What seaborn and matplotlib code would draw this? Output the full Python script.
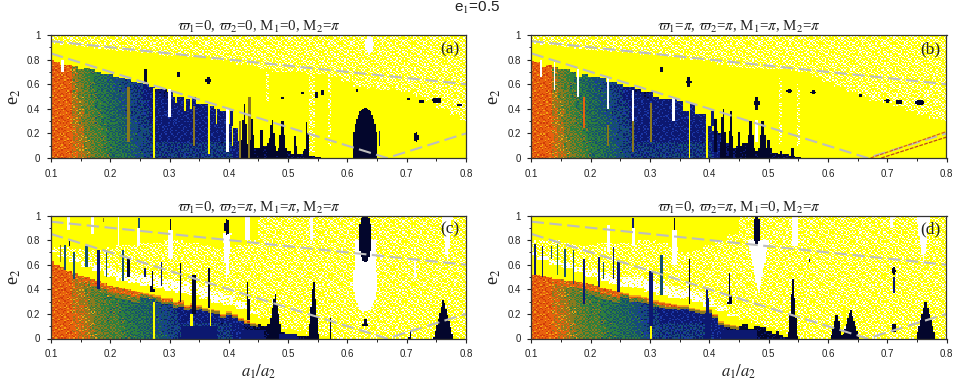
import numpy as np
import pandas as pd
import matplotlib
matplotlib.use("Agg")
import matplotlib.pyplot as plt
from matplotlib.colors import ListedColormap
import seaborn as sns

# ---- class codes of the stability map
WHITE, YELLOW, ORANGE, OLIVE, GREEN, TEAL, NAVY, BLACK, RED, AMBER, BLUE = range(11)
CLASS_COLOURS = ["#FFFFFF", "#FFFF00", "#E8600E", "#8C7A1E", "#2E7F3E", "#15506E", "#0C1870", "#03062C",
                 "#CF3A0A", "#F5A512", "#1C38A8"]

TITLES = [r"$\varpi_1$=0, $\varpi_2$=0, M$_1$=0, M$_2$=$\pi$",
          r"$\varpi_1$=$\pi$, $\varpi_2$=$\pi$, M$_1$=$\pi$, M$_2$=$\pi$",
          r"$\varpi_1$=0, $\varpi_2$=$\pi$, M$_1$=$\pi$, M$_2$=$\pi$",
          r"$\varpi_1$=0, $\varpi_2$=$\pi$, M$_1$=0, M$_2$=$\pi$"]
LETTERS = ["(a)", "(b)", "(c)", "(d)"]
X_TICKS = [0.1, 0.2, 0.3, 0.4, 0.5, 0.6, 0.7, 0.8]
X_LABELS = ["0.1", "0.2", "0.3", "0.4", "0.5", "0.6", "0.7", "0.8"]
Y_TICKS = [0, 0.2, 0.4, 0.6, 0.8, 1]
Y_LABELS = ["0", "0.2", "0.4", "0.6", "0.8", "1"]

# Dashed curves (a1/a2, e2)
UPPER_A = [0.1, 0.8]
UPPER_E = [0.95, 0.6]
LOWER_A = [0.1, 0.6667, 0.8]
LOWER_E = [0.85, 0.0, 0.2]
BAND1_A = [0.672, 0.8]
BAND1_E = [0.0, 0.215]
BAND2_A = [0.69, 0.8]
BAND2_E = [0.0, 0.17]

# Colour level of the stable region per column, a1/a2 = 0.10, 0.11 ... 0.80
HUE_TOP = [0, 0, 0, 0, .5, .9, 1.3, 1.6, 1.9, 2.1,
           2.4, 2.6, 2.8, 3, 3.2, 3.4, 3.6, 3.8, 4, 4,
           4, 4, 4, 4, 4, 4, 4, 4, 4, 4,
           4, 4.2, 4.4, 4.6, 4.8, 5, 5, 5, 5, 5,
           5, 5, 5, 5, 5, 5, 5, 5, 5, 5,
           5, 5, 5, 5, 5, 5, 5, 5, 5, 5,
           5, 5, 5, 5, 5, 5, 5, 5, 5, 5, 5]
HUE_BOTTOM = [0, 0, 0, 0, .3, .6, .9, 1.2, 1.5, 1.8,
              2, 2, 2.2, 2.4, 2.5, 2.7, 2.8, 3, 3.2, 3.4,
              3.6, 3.8, 4, 4, 4, 4, 4, 4, 4, 4,
              4, 4.2, 4.4, 4.6, 4.8, 5, 5, 5, 5, 5,
              5, 5, 5, 5, 5, 5, 5, 5, 5, 5,
              5, 5, 5, 5, 5, 5, 5, 5, 5, 5,
              5, 5, 5, 5, 5, 5, 5, 5, 5, 5, 5]

# Top of the stable region per column, a1/a2 = 0.10, 0.11 ... 0.80
STABLE_A = [.80, .78, .76, .76, .75, .72, .73, .72, .70, .68,
            .68, .66, .65, .64, .62, .61, .60, .58, .56, .56,
            .54, .50, .50, .48, .50, .44, .44, .42, .40, .38,
            .28, .24, .14, .10, .08, .08, .10, .12, .06, .14,
            .06, .03, .03, .06, .02, .01, 0, 0, 0, 0,
            0, 0, 0, 0, 0, 0, 0, 0, 0, 0,
            0, 0, 0, 0, 0, 0, 0, 0, 0, 0, 0]
STABLE_B = [.79, .78, .74, .76, .74, .72, .72, .70, .66, .68,
            .66, .66, .65, .62, .62, .60, .58, .58, .56, .54,
            .54, .50, .48, .48, .48, .46, .38, .44, .36, .36,
            .26, .22, .20, .12, .08, .10, .12, .06, .06, .10,
            .08, .04, .03, .03, .02, .01, 0, 0, 0, 0,
            0, 0, 0, 0, 0, 0, 0, 0, 0, 0,
            0, 0, 0, 0, 0, 0, 0, 0, 0, 0, 0]
STABLE_C = [.63, .60, .58, .55, .53, .51, .50, .48, .47, .45,
            .43, .42, .41, .40, .39, .38, .37, .36, .35, .33,
            .33, .30, .31, .27, .29, .27, .25, .24, .23, .20,
            .22, .20, .17, .15, .13, .12, .10, .12, .05, .05,
            .04, .03, .02, .02, .01, 0, 0, 0, 0, 0,
            0, 0, 0, 0, 0, 0, 0, 0, 0, 0,
            0, 0, 0, 0, 0, 0, 0, 0, 0, 0, 0]
STABLE_D = [.52, .52, .51, .50, .48, .48, .47, .47, .46, .45,
            .44, .43, .41, .40, .39, .38, .37, .35, .35, .34,
            .33, .31, .30, .29, .28, .27, .27, .25, .24, .23,
            .24, .20, .14, .12, .11, .10, .12, .08, .10, .09,
            .06, .04, .03, .01, 0, 0, 0, 0, 0, 0,
            0, 0, 0, 0, 0, 0, 0, 0, 0, 0,
            0, 0, 0, 0, 0, 0, 0, 0, 0, 0, 0]

# Upper limits of the plain yellow / white / speckled zones, a1/a2 = 0.10, 0.12 ... 0.80
YELLOW_A = [.93, .92, .91, .90, .89, .88, .87, .86, .85, .84, .83, .83, .82, .82, .80, .78, .76, .75,
            .72, .70, .70, .70, .68, .68, .66, .62, .58, .56, .55, .55, .54, .50, .46, .40, .35, .30]
YELLOW_B = [.93, .92, .91, .90, .89, .88, .87, .86, .85, .84, .84, .83, .82, .80, .80, .78, .76, .74,
            .73, .72, .72, .72, .71, .70, .66, .62, .58, .54, .50, .46, .45, .42, .38, .35, .32, .30]
YELLOW_C = [.70, .66, .62, .58, .55, .50, .47, .45, .43, .41, .39, .37, .35, .32, .29, .27, .24, .20,
            .16, .12, .08, .06, .03, .02, 0, 0, 0, 0, 0, 0, 0, 0, 0, 0, 0, 0]
YELLOW_D = [.68, .64, .60, .57, .54, .50, .47, .44, .42, .41, .38, .35, .33, .32, .30, .26, .22, .18,
            .15, .12, .09, .06, .03, 0, 0, 0, 0, 0, 0, 0, 0, 0, 0, 0, 0, 0]
WHITE_A = [0] * 36
WHITE_B = [0] * 36
WHITE_C = [.72, .68, .65, .62, .60, .57, .54, .53, .52, .50, .48, .47, .45, .42, .38, .35, .30, .22,
           .16, 0, 0, 0, 0, 0, 0, 0, 0, 0, 0, 0, 0, 0, 0, 0, 0, 0]
WHITE_D = [.70, .67, .64, .61, .58, .56, .54, .52, .50, .50, .47, .44, .42, .40, .38, .32, .26, .20,
           .15, 0, 0, 0, 0, 0, 0, 0, 0, 0, 0, 0, 0, 0, 0, 0, 0, 0]
SPECKLE_A = [1] * 36
SPECKLE_B = [1] * 36
SPECKLE_C = [.75, .74, .73, .72, .72, .74, .76, .76, .78, .78, .80, .80, .78, .76, .74, .74, .76, .80,
             1, 1, 1, 1, 1, 1, 1, 1, 1, 1, 1, 1, 1, 1, 1, 1, 1, 1]
SPECKLE_D = [.80, .80, .80, .78, .76, .76, .78, .78, .78, .80, .80, .78, .74, .70, .72, .76, .80, .85,
             1, 1, 1, 1, 1, 1, 1, 1, 1, 1, 1, 1, 1, 1, 1, 1, 1, 1]

# Resonance features: (a1/a2, half width, e2 low, e2 high, shape, class)
# shapes: r bar, t taper to the top, v taper to the bottom, e ellipse, s speckled bar
FEATURES_A = [
    (.11, .001, .55, .70, "r", NAVY), (.12, .002, .70, .80, "r", WHITE), (.12, .001, .55, .68, "r", TEAL),
    (.17, .001, .55, .72, "r", WHITE), (.19, .001, .50, .68, "r", WHITE), (.19, .001, .25, .35, "r", ORANGE),
    (.21, .001, .50, .66, "r", YELLOW), (.22, .001, .50, .66, "r", YELLOW), (.23, .0015, .13, .58, "r", OLIVE),
    (.25, .001, .25, .50, "r", WHITE), (.273, .0015, 0, .57, "r", YELLOW), (.30, .002, .33, .56, "r", WHITE),
    (.30, .001, .15, .30, "r", YELLOW), (.342, .001, .10, .42, "r", OLIVE), (.367, .0015, .03, .47, "r", YELLOW),
    (.285, .001, .40, .60, "r", NAVY), (.312, .001, .45, .52, "r", YELLOW), (.326, .001, .38, .50, "r", YELLOW),
    (.336, .001, .40, .50, "r", YELLOW), (.355, .001, .30, .46, "r", YELLOW), (.378, .001, .28, .44, "r", YELLOW),
    (.385, .001, .10, .38, "r", YELLOW), (.398, .003, .05, .40, "r", WHITE), (.418, .001, 0, .30, "r", OLIVE),
    (.407, .001, .10, .34, "r", YELLOW), (.405, .0015, .26, .38, "r", NAVY), (.375, .001, .38, .50, "r", NAVY),
    (.435, .0015, 0, .50, "r", OLIVE), (.449, .0015, .10, .45, "r", YELLOW),
    (.426, .007, 0, .46, "t", BLACK), (.439, .005, 0, .34, "t", BLACK), (.455, .003, 0, .40, "t", BLACK),
    (.473, .008, 0, .34, "t", BLACK), (.49, .008, 0, .36, "t", BLACK), (.512, .003, 0, .24, "t", BLACK),
    (.532, .004, 0, .36, "t", BLACK), (.545, .001, 0, .12, "r", BLACK),
    (.63, .021, -.30, .41, "e", BLACK), (.61, .001, .08, .24, "r", BLACK), (.653, .001, .10, .22, "r", NAVY),
    (.716, .0035, .13, .21, "e", BLACK), (.637, .007, .85, 1.0, "e", WHITE), (.49, .003, .48, .50, "r", BLACK),
    (.546, .005, .49, .54, "e", BLACK), (.525, .004, .52, .54, "e", BLACK), (.558, .003, .51, .55, "e", BLACK),
    (.616, .002, .54, .56, "r", BLACK), (.703, .003, .47, .49, "r", BLACK), (.725, .005, .45, .47, "r", BLACK),
    (.751, .008, .45, .49, "e", BLACK), (.788, .004, .42, .44, "r", BLACK), (.57, .003, .10, .80, "s", WHITE),
    (.26, .003, .62, .72, "e", BLACK), (.315, .003, .66, .70, "r", BLACK), (.365, .004, .60, .66, "e", BLACK),
    (.54, .004, .05, .70, "s", WHITE), (.465, .003, .45, .70, "s", WHITE),
]
FEATURES_B = [
    (.116, .002, .66, .80, "r", WHITE), (.138, .001, .55, .78, "r", WHITE), (.179, .0015, .50, .72, "r", WHITE),
    (.189, .001, .24, .50, "r", ORANGE), (.20, .001, .50, .68, "r", WHITE), (.229, .0015, .40, .65, "r", WHITE),
    (.229, .001, .10, .27, "r", OLIVE), (.271, .0015, .30, .55, "r", WHITE), (.271, .001, .05, .30, "r", OLIVE),
    (.301, .0015, .13, .45, "r", OLIVE), (.34, .002, .30, .50, "r", WHITE), (.34, .001, 0, .30, "r", TEAL),
    (.366, .0015, 0, .50, "r", YELLOW), (.396, .002, 0, .40, "r", YELLOW), (.38, .001, .20, .50, "r", OLIVE),
    (.31, .001, .40, .50, "r", YELLOW), (.32, .001, .38, .48, "r", OLIVE), (.35, .001, .35, .46, "r", YELLOW),
    (.375, .001, .30, .44, "r", YELLOW), (.39, .001, .30, .36, "r", YELLOW), (.405, .0015, .26, .38, "r", NAVY),
    (.425, .001, .10, .50, "r", YELLOW), (.423, .006, 0, .46, "t", BLACK), (.436, .005, 0, .40, "t", BLACK),
    (.45, .003, 0, .36, "t", BLACK), (.41, .003, .05, .52, "t", BLACK),
    (.48, .004, .39, .50, "e", BLACK), (.47, .008, 0, .36, "t", BLACK), (.49, .008, 0, .36, "t", BLACK),
    (.48, .003, .12, .32, "e", WHITE), (.50, .004, 0, .22, "t", BLACK), (.522, .002, 0, .10, "t", BLACK),
    (.54, .003, 0, .14, "t", BLACK), (.55, .001, .50, .53, "r", BLACK), (.55, .001, 0, .08, "r", BLACK),
    (.535, .005, .53, .56, "e", BLACK), (.575, .004, .52, .55, "e", BLACK), (.70, .004, .45, .48, "e", BLACK),
    (.72, .006, .44, .47, "e", BLACK), (.755, .008, .43, .47, "e", BLACK), (.62, .001, .54, .56, "r", BLACK),
    (.655, .002, .50, .52, "r", BLACK), (.52, .003, .10, .65, "s", WHITE), (.55, .003, .10, .60, "s", WHITE),
    (.365, .004, .58, .66, "e", BLACK), (.32, .002, .70, .74, "r", BLACK),
]
FEATURES_C = [
    (.116, .001, .62, .76, "r", OLIVE), (.123, .001, .56, .76, "r", TEAL), (.131, .002, .75, .79, "e", BLACK),
    (.139, .001, .48, .70, "r", TEAL), (.16, .002, .58, .75, "r", TEAL), (.18, .0015, .40, .72, "r", NAVY),
    (.185, .001, .52, .74, "r", TEAL), (.194, .0015, .50, .72, "r", TEAL), (.20, .001, .55, .67, "r", NAVY),
    (.221, .001, .47, .72, "r", TEAL), (.23, .002, .50, .65, "r", BLACK), (.23, .001, .05, .50, "r", OLIVE),
    (.259, .001, .50, .57, "r", NAVY), (.271, .003, .38, .57, "t", BLACK), (.286, .002, .43, .62, "r", NAVY),
    (.319, .002, .30, .66, "t", BLACK), (.341, .004, .20, .52, "r", BLACK), (.366, .002, .25, .62, "t", BLACK),
    (.397, .007, .42, .86, "v", WHITE), (.301, .004, .65, .88, "r", WHITE), (.248, .003, .75, .90, "r", WHITE),
    (.432, .003, .15, .56, "t", BLACK), (.397, .004, .84, .97, "e", BLACK), (.301, .002, .88, .97, "e", BLACK),
    (.248, .001, .90, .98, "r", TEAL), (.189, .001, .95, .98, "r", OLIVE), (.273, .001, 0, .30, "r", YELLOW),
    (.338, .002, .05, .20, "r", YELLOW), (.369, .001, .10, .25, "r", YELLOW), (.214, .002, .75, 1, "r", WHITE),
    (.17, .002, .85, 1, "r", WHITE), (.13, .002, .88, 1, "r", WHITE), (.432, .004, .80, 1, "r", WHITE),
    (.478, .012, 0, .38, "t", BLACK), (.543, .009, 0, .50, "t", BLACK), (.571, .001, 0, .17, "r", BLACK),
    (.63, .02, .22, .70, "e", WHITE), (.63, .017, .40, .80, "r", WHITE), (.63, .0105, .62, 1.02, "e", BLACK),
    (.63, .005, .10, .18, "t", BLACK),
    (.762, .016, 0, .33, "t", BLACK), (.706, .003, 0, .06, "t", BLACK), (.768, .009, .60, 1, "v", WHITE),
    (.54, .003, .80, 1, "r", WHITE), (.714, .002, .50, .63, "r", WHITE), (.52, .001, .72, .76, "r", BLACK),
    (.35, .03, 0, .10, "r", NAVY), (.44, .02, 0, .07, "r", NAVY), (.50, .014, 0, .04, "r", NAVY),
]
FEATURES_D = [
    (.107, .001, .52, .77, "r", NAVY), (.119, .0015, .50, .75, "r", NAVY), (.134, .001, .65, .75, "r", TEAL),
    (.144, .001, .52, .77, "r", GREEN), (.156, .001, .50, .73, "r", TEAL), (.171, .001, .44, .72, "r", TEAL),
    (.185, .001, .50, .65, "r", TEAL), (.189, .001, .28, .65, "r", NAVY), (.214, .002, .42, .66, "r", NAVY),
    (.221, .001, .48, .62, "r", TEAL), (.238, .001, .48, .74, "r", NAVY), (.248, .002, .38, .63, "r", NAVY),
    (.26, .001, .37, .71, "r", NAVY), (.285, .001, .42, .70, "r", OLIVE), (.301, .003, .10, .55, "r", NAVY),
    (.32, .002, .35, .68, "r", TEAL), (.366, .002, .28, .65, "r", BLACK), (.397, .006, 0, .46, "t", NAVY),
    (.23, .002, .70, .92, "r", WHITE), (.272, .003, .75, .90, "r", WHITE), (.341, .004, .60, .88, "r", WHITE),
    (.23, .001, .92, .98, "r", NAVY), (.272, .001, .90, .98, "r", NAVY), (.341, .002, .88, .98, "e", BLACK),
    (.16, .001, .85, 1, "r", WHITE), (.19, .001, .82, 1, "r", WHITE), (.301, .001, 0, .10, "r", YELLOW),
    (.483, .017, .35, .80, "v", WHITE), (.48, .006, .77, .99, "e", BLACK), (.434, .003, .28, .55, "t", BLACK),
    (.541, .008, 0, .50, "t", BLACK), (.569, .001, .62, .65, "r", BLACK), (.615, .01, 0, .22, "t", BLACK),
    (.638, .014, 0, .24, "t", BLACK), (.628, .002, .10, .26, "r", YELLOW), (.711, .003, .52, .58, "e", BLACK),
    (.711, .001, .37, .50, "r", NAVY), (.711, .003, .05, .12, "r", BLACK), (.765, .016, 0, .33, "t", BLACK),
    (.545, .004, .75, 1, "r", WHITE), (.761, .012, .60, 1, "v", WHITE), (.708, .002, .90, 1, "r", WHITE),
    (.45, .03, 0, .07, "r", NAVY), (.515, .003, 0, .10, "t", BLACK),
]

STABLE = [STABLE_A, STABLE_B, STABLE_C, STABLE_D]
YELLOW_TOPS = [YELLOW_A, YELLOW_B, YELLOW_C, YELLOW_D]
WHITE_TOPS = [WHITE_A, WHITE_B, WHITE_C, WHITE_D]
SPECKLE_TOPS = [SPECKLE_A, SPECKLE_B, SPECKLE_C, SPECKLE_D]
HUES = [HUE_TOP, HUE_TOP, HUE_BOTTOM, HUE_BOTTOM]
FEATURES = [FEATURES_A, FEATURES_B, FEATURES_C, FEATURES_D]
FRINGED = [False, False, True, True]

# Halftone tile: renders the map's grainy zones as fine speckle
TILE = np.array([[.55, .10, .80, .35, .95, .20, .65],
                 [.30, .90, .45, .05, .60, .85, .15],
                 [.75, .25, .70, .50, .12, .40, .98],
                 [.02, .58, .18, .92, .33, .72, .48],
                 [.88, .38, .83, .28, .67, .08, .52],
                 [.42, .15, .62, .78, .22, .95, .32],
                 [.68, .97, .06, .44, .87, .56, .26]])

N_COL, N_ROW = 280, 100
A = 0.1 + (np.arange(N_COL) + .5) * 0.7 / N_COL
E = 1 - (np.arange(N_ROW) + .5) / N_ROW


def build_map(stable, yellow, white, speckle, hue, features, fringed):
    aa, ee = np.meshgrid(A, E)
    ii, jj = np.meshgrid(np.arange(N_COL), np.arange(N_ROW))
    tile = TILE[(jj + 3 * (ii // 7)) % 7, (ii + 2 * (jj // 7)) % 7]
    c1 = np.rint((aa - .1) / .01).astype(int)
    c2 = np.rint((aa - .1) / .02).astype(int)
    s_top = np.array(stable)[c1]
    y_top = np.array(yellow)[c2]
    w_top = np.array(white)[c2]
    k_top = np.array(speckle)[c2]
    lev = np.array(hue, dtype=float)[c1]

    speck = np.where(tile < .33, WHITE, YELLOW)
    m = np.where(ee <= k_top, speck, YELLOW)
    m = np.where(ee <= w_top, np.where(tile < .82, WHITE, YELLOW), m)
    m = np.where(ee <= y_top, YELLOW, m)
    # grain: levels overlap, and warm colours reach further along the bottom of the map
    lev = np.where(lev > 0, lev + (ee - .3) * 1.2, lev)
    lev = np.clip(lev, 0, 5)
    spread = np.where(lev >= 3.8, .6, 1.5) * (lev > 0)
    depth = s_top - ee
    width = np.zeros_like(aa)
    if fringed:
        width = np.where(aa < .25, .05, np.where(aa < .35, .025, np.where(aa < .45, .015, 0)))
        lev = np.where(depth < width, 0, np.where(depth < 1.8 * width, np.minimum(lev, 1.2), lev))
    col = ORANGE + np.clip(np.rint(lev + (tile - .5) * spread), 0, 5).astype(int)
    col = np.where((col == ORANGE) & (tile > .78), RED, col)
    col = np.where((col == ORANGE) & (tile < .12), AMBER, col)
    col = np.where((col == NAVY) & (tile > .82), BLUE, col)
    col = np.where((depth < .4 * width) & (aa >= .25), AMBER, col)
    m = np.where(ee <= s_top, col, m)

    for a0, hw, lo, hi, shape, cls in features:
        if shape == "e":
            mid, half = (lo + hi) / 2, (hi - lo) / 2
            mask = ((aa - a0) / hw) ** 2 + ((ee - mid) / half) ** 2 <= 1
        else:
            if shape == "t":
                reach = hw * (hi - ee) / (hi - lo)
            elif shape == "v":
                reach = hw * (ee - lo) / (hi - lo)
            else:
                reach = hw
            mask = (abs(aa - a0) <= reach) & (ee >= lo) & (ee <= hi)
        m = np.where(mask, speck if shape == "s" else cls, m)
    return m


sns.set_theme(style="white", rc={"font.family": ["Liberation Sans", "DejaVu Sans"], "mathtext.fontset": "stix"})
W, H = 954, 381
fig = plt.figure(figsize=(W / 100, H / 100), dpi=100)
BOXES = [(51, 35, 415, 123), (531.5, 35, 415, 123), (51, 215.5, 415, 123), (531.5, 215.5, 415, 123)]
cmap = ListedColormap(CLASS_COLOURS)


def xp(a):
    return (np.asarray(a, dtype=float) - .1) / .7 * N_COL


def yp(e):
    return (1 - np.asarray(e, dtype=float)) * N_ROW


for p, (x0, y0, w, h) in enumerate(BOXES):
    ax = fig.add_axes([x0 / W, 1 - (y0 + h) / H, w / W, h / H])
    grid = pd.DataFrame(build_map(STABLE[p], YELLOW_TOPS[p], WHITE_TOPS[p], SPECKLE_TOPS[p],
                                  HUES[p], FEATURES[p], FRINGED[p]), index=E, columns=A)
    sns.heatmap(grid, ax=ax, cmap=cmap, vmin=-.5, vmax=10.5, cbar=False, rasterized=True,
                xticklabels=False, yticklabels=False)
    ax.collections[0].set_antialiased(False)
    line_kw = dict(color="#BDBDBD", lw=1.5, dashes=(6, 2.6))
    sns.lineplot(x=xp(UPPER_A), y=yp(UPPER_E), ax=ax, sort=False, **line_kw)
    sns.lineplot(x=xp(LOWER_A), y=yp(LOWER_E), ax=ax, sort=False, **line_kw)
    if p == 1:
        ax.plot(xp(BAND1_A), yp(BAND1_E), color="#D9601A", lw=.9, ls=(0, (3, 1)))
        ax.plot(xp(BAND2_A), yp(BAND2_E), color="#C0441A", lw=.9, ls=(0, (3, 1)))
    ax.set_xlim(0, N_COL)
    ax.set_ylim(N_ROW, 0)
    ax.set_xticks(xp(X_TICKS))
    ax.set_xticklabels(X_LABELS, rotation=0)
    ax.set_xticks(xp(np.array(X_TICKS[:-1]) + .05), minor=True)
    ax.set_yticks(yp(Y_TICKS))
    ax.set_yticklabels(Y_LABELS, rotation=0)
    ax.set_yticks(yp(np.array(Y_TICKS[:-1]) + .1), minor=True)
    ax.tick_params(which="major", length=3.2, width=.8, color="#222222", labelsize=7,
                   labelcolor="#222222", pad=4.5, bottom=True, left=True)
    ax.tick_params(which="minor", length=1.8, width=.7, color="#222222", bottom=True, left=True)
    for sp in ax.spines.values():
        sp.set_visible(True)
        sp.set_color("#333333")
        sp.set_linewidth(.9)
    ax.set_xlabel("")
    ax.set_ylabel("")
    ax.set_title(TITLES[p], fontsize=10.8, family="Liberation Serif", pad=2.5, color="#222222")
    ax.text(.985, .95, LETTERS[p], transform=ax.transAxes, ha="right", va="top",
            fontsize=12.5, family="Liberation Serif", color="#222222")
    ax.text(-.088, .5, r"e$_2$", transform=ax.transAxes, rotation=90, ha="center", va="center",
            fontsize=13, family="Liberation Serif", color="#222222")
    if p >= 2:
        ax.text(.5, -.27, r"$a_1/a_2$", transform=ax.transAxes, ha="center", va="center",
                fontsize=12, color="#222222")

fig.text(477 / W, 1 - 8 / H, r"e$_1$=0.5", ha="center", va="center", fontsize=11, color="#222222")
fig.savefig("out.png", dpi=100)
